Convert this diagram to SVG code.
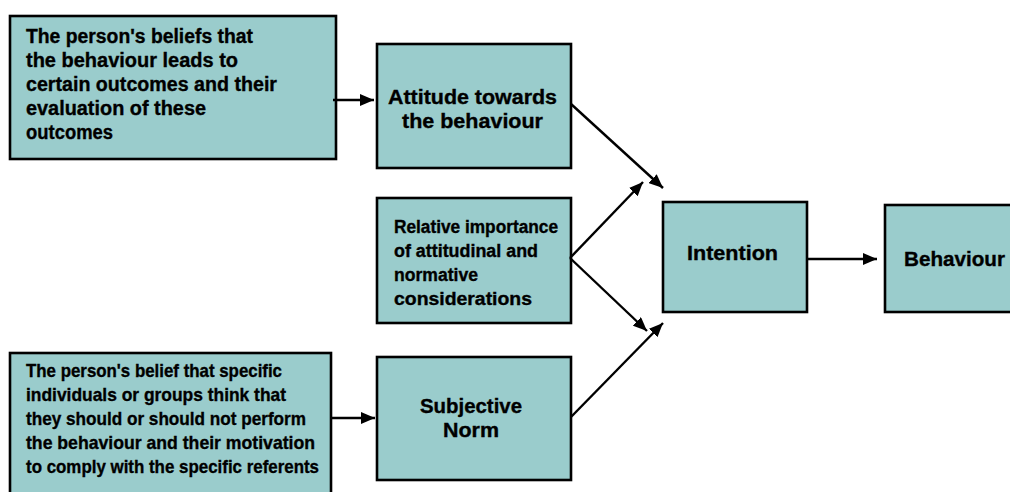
<svg xmlns="http://www.w3.org/2000/svg" width="1010" height="492" viewBox="0 0 1010 492">
  <style>
    .box { fill: #9acccc; stroke: #000; stroke-width: 2.6; }
    .t { font-family: "Liberation Sans", Arial, sans-serif; font-weight: bold; fill: #000; stroke: #000; stroke-width: 0.35; }
    .big { font-size: 20px; }
    .mid { font-size: 18.5px; }
    .sm { font-size: 17.5px; }
    .c { text-anchor: middle; }
    .link { stroke: #000; stroke-width: 2.4; fill: none; marker-end: url(#head); }
  </style>
  <defs>
    <marker id="head" markerUnits="userSpaceOnUse" markerWidth="14" markerHeight="12" refX="14" refY="6" orient="auto">
      <path d="M0,0 L14,6 L0,12 z" fill="#000"/>
    </marker>
  </defs>
  <rect width="1010" height="492" fill="#fff"/>

  <g id="beliefs-outcomes">
    <rect class="box" x="10" y="16" width="326" height="143"/>
    <text class="t big" x="26" y="43" textLength="227" lengthAdjust="spacingAndGlyphs">The person's beliefs that</text>
    <text class="t big" x="26" y="67" textLength="212" lengthAdjust="spacingAndGlyphs">the behaviour leads to</text>
    <text class="t big" x="26" y="91" textLength="251" lengthAdjust="spacingAndGlyphs">certain outcomes and their</text>
    <text class="t big" x="26" y="115" textLength="180" lengthAdjust="spacingAndGlyphs">evaluation of these</text>
    <text class="t big" x="26" y="139" textLength="87" lengthAdjust="spacingAndGlyphs">outcomes</text>
  </g>

  <g id="normative-beliefs">
    <rect class="box" x="10" y="353" width="321" height="145"/>
    <text class="t mid" x="26" y="377" textLength="256" lengthAdjust="spacingAndGlyphs">The person's belief that specific</text>
    <text class="t mid" x="26" y="401" textLength="260" lengthAdjust="spacingAndGlyphs">individuals or groups think that</text>
    <text class="t mid" x="26" y="425" textLength="280" lengthAdjust="spacingAndGlyphs">they should or should not perform</text>
    <text class="t mid" x="26" y="449" textLength="289" lengthAdjust="spacingAndGlyphs">the behaviour and their motivation</text>
    <text class="t mid" x="26" y="473" textLength="293" lengthAdjust="spacingAndGlyphs">to comply with the specific referents</text>
  </g>

  <g id="attitude">
    <rect class="box" x="377" y="44" width="194" height="124"/>
    <text class="t big c" x="472.5" y="104" textLength="169" lengthAdjust="spacingAndGlyphs">Attitude towards</text>
    <text class="t big c" x="472.5" y="128" textLength="141" lengthAdjust="spacingAndGlyphs">the behaviour</text>
  </g>

  <g id="relative-importance">
    <rect class="box" x="377" y="198" width="194" height="125"/>
    <text class="t sm" x="394" y="233" textLength="164" lengthAdjust="spacingAndGlyphs">Relative importance</text>
    <text class="t sm" x="394" y="257" textLength="144" lengthAdjust="spacingAndGlyphs">of attitudinal and</text>
    <text class="t sm" x="394" y="281" textLength="84" lengthAdjust="spacingAndGlyphs">normative</text>
    <text class="t sm" x="394" y="305" textLength="138" lengthAdjust="spacingAndGlyphs">considerations</text>
  </g>

  <g id="subjective-norm">
    <rect class="box" x="377" y="357" width="194" height="123"/>
    <text class="t big c" x="471" y="413" textLength="102" lengthAdjust="spacingAndGlyphs">Subjective</text>
    <text class="t big c" x="471" y="437" textLength="56" lengthAdjust="spacingAndGlyphs">Norm</text>
  </g>

  <g id="intention">
    <rect class="box" x="663" y="202" width="144" height="110"/>
    <text class="t big c" x="732.5" y="260" textLength="91" lengthAdjust="spacingAndGlyphs">Intention</text>
  </g>

  <g id="behaviour">
    <rect class="box" x="885" y="205" width="140" height="107"/>
    <text class="t big" x="904" y="266" textLength="101" lengthAdjust="spacingAndGlyphs">Behaviour</text>
  </g>

  <g id="connectors">
    <line class="link" x1="333" y1="100" x2="374" y2="100"/>
    <line class="link" x1="331" y1="418" x2="375" y2="418"/>
    <line class="link" x1="807" y1="259" x2="877" y2="259"/>
    <line class="link" x1="571" y1="104" x2="663" y2="188"/>
    <line class="link" x1="570" y1="258" x2="643" y2="182"/>
    <line class="link" x1="570" y1="258" x2="647" y2="331"/>
    <line class="link" x1="571" y1="417" x2="663" y2="323"/>
  </g>
</svg>
